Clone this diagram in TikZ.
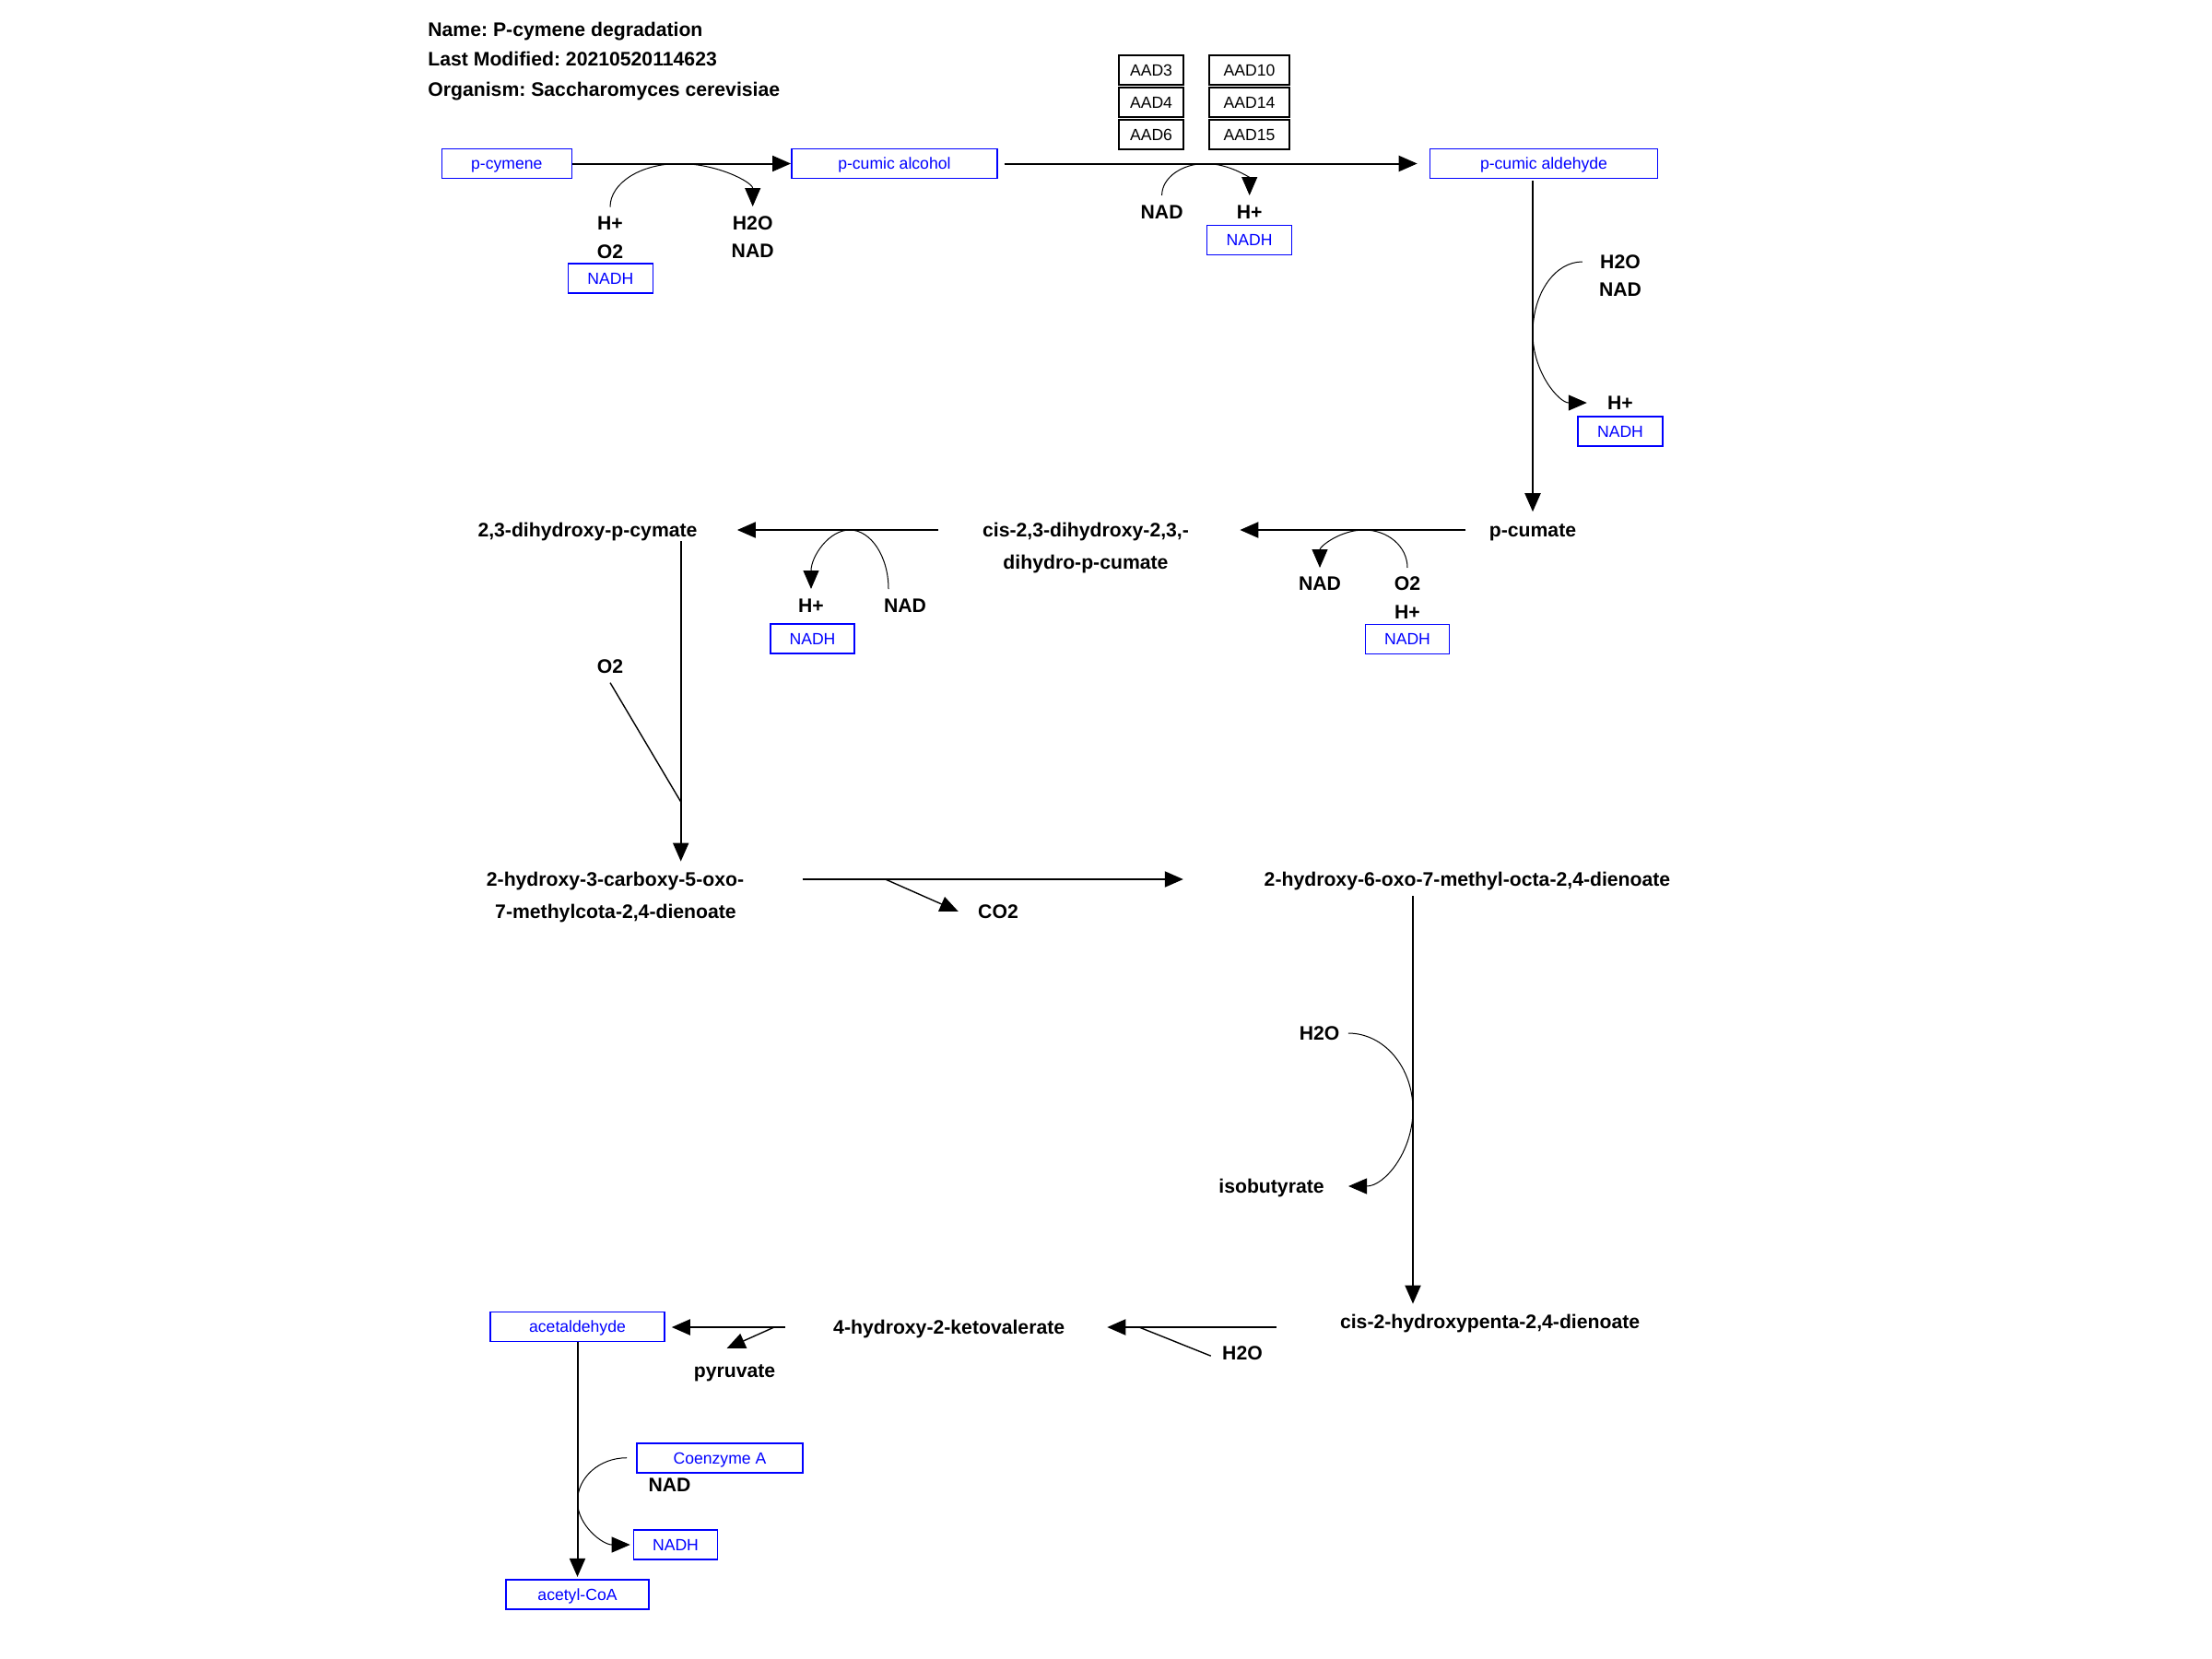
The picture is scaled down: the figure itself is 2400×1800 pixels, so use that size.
\documentclass[tikz,border=0pt]{standalone}
\usepackage{fontspec}
\setmainfont{Liberation Sans}
\usetikzlibrary{arrows.meta}
\frenchspacing
\begin{document}
\begin{tikzpicture}[x=0.5pt,y=-0.5pt,
  lbl/.style={font=\fontsize{10.6}{12}\selectfont\bfseries, inner sep=0pt, text height=7.6pt, text depth=0pt},
  ttl/.style={lbl, anchor=west},
  bbox/.style={draw=blue, line width=0.8pt, text=blue, font=\fontsize{8.8}{10}\selectfont, inner sep=0pt, minimum height=16pt, text height=6.3pt, text depth=0pt},
  gbox/.style={draw=black, line width=0.8pt, font=\fontsize{8.8}{10}\selectfont, inner sep=0pt, minimum height=16pt, text height=6.3pt, text depth=0pt},
  main/.style={line width=1pt, -{Triangle[length=10pt,width=8.5pt]}},
  sline/.style={line width=0.7pt},
  sarr/.style={line width=0.7pt, -{Triangle[length=10pt,width=8.5pt]}},
  sarca/.style={line width=0.5pt, -{Triangle[length=10pt,width=8.5pt]}}
]
\path[use as bounding box] (0,0) rectangle (2400,1800);

% title
\node[ttl] (t1) at (464,32.3) {Name: P-cymene degradation};
\node[ttl] (t2) at (464,64) {Last Modified: 20210520114623};
\node[ttl] (t3) at (464,96.7) {Organism: Saccharomyces cerevisiae};

% gene boxes
\node[gbox, minimum width=35pt] (g3) at (1249,76) {AAD3};
\node[gbox, minimum width=35pt] (g4) at (1249,111) {AAD4};
\node[gbox, minimum width=35pt] (g6) at (1249,146) {AAD6};
\node[gbox, minimum width=43.5pt] (g10) at (1355.5,76) {AAD10};
\node[gbox, minimum width=43.5pt] (g14) at (1355.5,111) {AAD14};
\node[gbox, minimum width=43.5pt] (g15) at (1355.5,146) {AAD15};

% blue boxes
\node[bbox, minimum width=70.5pt] (pcym) at (549.8,177.5) {p-cymene};
\node[bbox, minimum width=111.5pt] (palc) at (970.4,177.5) {p-cumic alcohol};
\node[bbox, minimum width=123.5pt] (pald) at (1675,177.5) {p-cumic aldehyde};
\node[bbox, minimum width=46pt] (nadh1) at (662.4,302) {NADH};
\node[bbox, minimum width=46pt] (nadh2) at (1355.6,260.5) {NADH};
\node[bbox, minimum width=46pt] (nadh3) at (1758,468) {NADH};
\node[bbox, minimum width=45.5pt] (nadh4) at (1527,693.5) {NADH};
\node[bbox, minimum width=45.5pt] (nadh5) at (881.5,693) {NADH};
\node[bbox, minimum width=94.5pt] (acet) at (626.5,1439.3) {acetaldehyde};
\node[bbox, minimum width=90pt] (coa) at (781,1581.7) {Coenzyme A};
\node[bbox, minimum width=45.5pt] (nadh6) at (733,1676) {NADH};
\node[bbox, minimum width=77.5pt] (acoa) at (626.5,1729.7) {acetyl-CoA};

% labels
\node[lbl] (hp1) at (662,242) {H+};
\node[lbl] (o2a) at (662,272.7) {O2};
\node[lbl] (h2o1) at (816.7,242) {H2O};
\node[lbl] (nad1) at (816.7,272) {NAD};
\node[lbl] (nad2) at (1260.6,230) {NAD};
\node[lbl] (hp2) at (1355.7,230) {H+};
\node[lbl] (h2o3) at (1758,284) {H2O};
\node[lbl] (nad3) at (1758,313.5) {NAD};
\node[lbl] (hp3) at (1758,437) {H+};
\node[lbl] (pcum) at (1663,575) {p-cumate};
\node[lbl] (nad4) at (1432,633) {NAD};
\node[lbl] (o2b) at (1527,633) {O2};
\node[lbl] (hp4) at (1527,664) {H+};
\node[lbl] (cis1) at (1178,575) {cis-2,3-dihydroxy-2,3,-};
\node[lbl] (cis2) at (1178,610) {dihydro-p-cumate};
\node[lbl] (hp5) at (880,657) {H+};
\node[lbl] (nad5) at (982,657) {NAD};
\node[lbl] (dhpc) at (637.5,575) {2,3-dihydroxy-p-cymate};
\node[lbl] (o2c) at (662,722.7) {O2};
\node[lbl] (hcx1) at (667.5,954) {2-hydroxy-3-carboxy-5-oxo-};
\node[lbl] (hcx2) at (668,989) {7-methylcota-2,4-dienoate};
\node[lbl] (co2) at (1083,989) {CO2};
\node[lbl] (hoxo) at (1592,954) {2-hydroxy-6-oxo-7-methyl-octa-2,4-dienoate};
\node[lbl] (h2o8) at (1431.6,1121) {H2O};
\node[lbl] (isob) at (1379.5,1287) {isobutyrate};
\node[lbl] (c2hp) at (1616.6,1434) {cis-2-hydroxypenta-2,4-dienoate};
\node[lbl] (h2o9) at (1348,1468) {H2O};
\node[lbl] (hkv) at (1029.7,1440) {4-hydroxy-2-ketovalerate};
\node[lbl] (pyr) at (797,1487) {pyruvate};
\node[lbl] (nad11) at (726.5,1610.7) {NAD};

% junction coordinates
\coordinate (j1) at (737,177.5);
\coordinate (j2) at (1308,177.5);
\coordinate (j3) at (1663,361.5);
\coordinate (j4) at (1480,575);
\coordinate (j5) at (922,575);
\coordinate (j6) at (738.7,870);
\coordinate (j7) at (960.6,954);
\coordinate (j8) at (1533,1204);
\coordinate (j9) at (1236,1440);
\coordinate (j10) at (840,1440);
\coordinate (j11) at (626.5,1629);

% main reactions
\draw[main] (pcym.east) -- (palc.west);
\draw[main, shorten <=3.5pt, shorten >=6.5pt] (palc.east) -- (pald.west);
\draw[main, shorten <=1pt, shorten >=5.9pt] (j3 |- pald.south) -- (j3 |- pcum.north);
\draw[main, shorten <=12.5pt, shorten >=27.5pt] (pcum.west) -- (cis1.east);
\draw[main, shorten <=24pt, shorten >=21.5pt] (cis1.west) -- (dhpc.east);
\draw[main, shorten <=2pt, shorten >=5.7pt] (j6 |- dhpc.south) -- (j6 |- hcx1.north);
\draw[main, shorten <=31.5pt, shorten >=43.75pt] (hcx1.east) -- (hoxo.west);
\draw[main, shorten <=5pt, shorten >=5.7pt] (j8 |- hoxo.south) -- (j8 |- c2hp.north);
\draw[main, shorten <=34.5pt, shorten >=22.85pt] (j9 -| c2hp.west) -- (j9 -| hkv.east);
\draw[main, shorten <=26pt, shorten >=3.5pt] (j10 -| hkv.west) -- (j10 -| acet.east);
\draw[main, shorten >=1pt] (acet.south) -- (acoa.north);

% side arcs
\draw[sarca] ([yshift=4.7pt]hp1.north) .. controls +(0,-26) and +(-42,0) .. (j1)
  .. controls +(42,0) and +(0,-26) .. ([yshift=5pt]h2o1.north);
\draw[sarca] ([yshift=5pt]nad2.north) .. controls +(0,-19) and +(-26,0) .. (j2)
  .. controls +(26,0) and +(0,-19) .. ([yshift=5pt]hp2.north);
\draw[sarca] ([xshift=-9.5pt]h2o3.west) .. controls +(-30,0) and +(0,-43) .. (j3)
  .. controls +(0,43) and +(-30,0) .. ([xshift=-11pt]hp3.west);
\draw[sarca] ([yshift=4.5pt]o2b.north) .. controls +(0,-23) and +(26,0) .. (j4)
  .. controls +(-26,0) and +(0,-23) .. ([yshift=4.5pt]nad4.north);
\draw[sarca] ([xshift=-9pt,yshift=5pt]nad5.north) .. controls +(0,-35) and +(23,0) .. (j5)
  .. controls +(-23,0) and +(0,-35) .. ([yshift=5pt]hp5.north);
\draw[sarca] ([xshift=4.5pt]h2o8.east) .. controls +(39,0) and +(0,-46) .. (j8)
  .. controls +(0,46) and +(39,0) .. ([xshift=13pt]isob.east);
\draw[sarca] ([xshift=-5pt]coa.west) .. controls +(-30,0) and +(0,-26) .. (j11)
  .. controls +(0,26) and +(-30,0) .. ([xshift=-1.5pt]nadh6.west);

% side straight lines
\draw[sline] ([yshift=-5pt]o2c.south) -- (j6);
\draw[sarr] (j7) -- ([xshift=-10.5pt]co2.west);
\draw[sline, shorten <=6.5pt] (h2o9.south west) -- (j9);
\draw[sarr] (j10) -- ([xshift=-4.25pt,yshift=8pt]pyr.north);
\end{tikzpicture}
\end{document}
